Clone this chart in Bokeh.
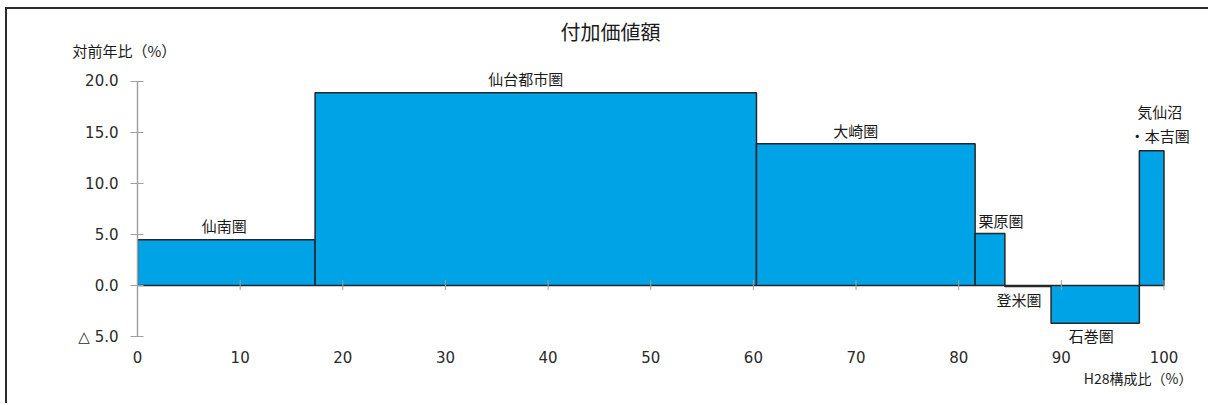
from bokeh.plotting import figure
from bokeh.models import Range1d, FixedTicker, Title, ColumnDataSource
from bokeh.core.properties import value
from bokeh.embed import file_html
from bokeh.resources import INLINE

# ---- data ----
regions = ["仙南圏", "仙台都市圏", "大崎圏", "栗原圏", "登米圏", "石巻圏", "気仙沼\n・本吉圏"]
shares = [17.3, 43.0, 21.3, 2.9, 4.5, 8.6, 2.4]      # H28構成比(%)
growth = [4.5, 18.9, 13.9, 5.1, -0.1, -3.7, 13.2]    # 対前年比(%)
x_ticks = [0, 10, 20, 30, 40, 50, 60, 70, 80, 90, 100]
x_tick_labels = ["0", "10", "20", "30", "40", "50", "60", "70", "80", "90", "100"]
y_ticks = [-5, 0, 5, 10, 15, 20]
y_tick_labels = ["△ 5.0", "0.0", "5.0", "10.0", "15.0", "20.0"]
title_text = "付加価値額"
y_title = "対前年比（%）"
x_title = "H28構成比（%）"

# label nudges (pixels; styling only)
label_dx = [-2, -10, -10, 11, -9, -4, 8]
label_dy = [-14, -14, -13, -13, 13, 12, -27]

# ---- derived geometry ----
lefts, rights = [], []
acc = 0.0
for s in shares:
    lefts.append(acc)
    acc += s
    rights.append(acc)
tops = [max(g, 0) for g in growth]
bottoms = [min(g, 0) for g in growth]
mids = [(l + r) / 2 for l, r in zip(lefts, rights)]

src = ColumnDataSource(dict(left=lefts, right=rights, top=tops, bottom=bottoms,
                            mid=mids, g=growth, name=regions,
                            dx=label_dx, dy=label_dy))

FONT_JP = "Noto Sans CJK JP"

p = figure(width=1203, height=396,
           x_range=Range1d(0, 103.07), y_range=Range1d(-6.27, 21.96),
           output_backend="svg", toolbar_location=None,
           min_border_left=130, min_border_right=15,
           min_border_top=52, min_border_bottom=56)
p.styles = {"margin-left": "5px", "margin-top": "7px",
            "border-left": "2px solid #2b2b2b", "border-top": "2px solid #2b2b2b"}
p.outline_line_color = None
p.xgrid.visible = False
p.ygrid.visible = False
p.background_fill_color = "white"
p.border_fill_color = "white"

# bars
p.quad(left="left", right="right", top="top", bottom="bottom", source=src,
       fill_color="#00A3E6", line_color="#262626", line_width=1.5)

# small tick marks on the zero line
p.segment(x0=x_ticks[1:], y0=[-0.45] * (len(x_ticks) - 1),
          x1=x_ticks[1:], y1=[0.55] * (len(x_ticks) - 1),
          line_color="#a0a0a0", line_width=1)

# bar labels
p.text(x="mid", y="g", text="name", source=src, x_offset="dx", y_offset="dy",
       text_align="center", text_baseline="middle",
       text_font=value(FONT_JP), text_font_size="15px", text_color="#1a1a1a",
       text_line_height=1.15)

# axes
ya = p.yaxis[0]
ya.ticker = FixedTicker(ticks=y_ticks)
ya.major_label_overrides = dict(zip(y_ticks, y_tick_labels))
ya.bounds = (-5, 20)
ya.axis_line_color = "#a0a0a0"
ya.axis_line_width = 1.5
ya.major_tick_line_color = "#a0a0a0"
ya.major_tick_in = 6
ya.major_tick_out = 7
ya.minor_tick_line_color = None
ya.major_label_standoff = 12
ya.major_label_text_font = "DejaVu Sans"
ya.major_label_text_font_size = "15px"
ya.major_label_text_color = "#2a2a2a"

xa = p.xaxis[0]
xa.ticker = FixedTicker(ticks=x_ticks)
xa.major_label_overrides = dict(zip(x_ticks, x_tick_labels))
xa.axis_line_color = None
xa.major_tick_line_color = None
xa.minor_tick_line_color = None
xa.major_tick_out = 0
xa.major_tick_in = 0
xa.major_label_standoff = 1
xa.major_label_text_font = "DejaVu Sans"
xa.major_label_text_font_size = "15px"
xa.major_label_text_color = "#2a2a2a"

# titles
p.title.text = title_text
p.title.align = "left"
p.title.offset = 423
p.title.standoff = -18
p.title.text_font = FONT_JP
p.title.text_font_size = "20px"
p.title.text_font_style = "normal"
p.title.text_color = "#1a1a1a"

p.add_layout(Title(text=y_title, align="left", offset=-65, standoff=2,
                   text_font=FONT_JP, text_font_size="15px",
                   text_font_style="normal", text_color="#1a1a1a"), "above")
p.add_layout(Title(text=x_title, align="right", offset=3, standoff=0,
                   text_font=FONT_JP, text_font_size="14px",
                   text_font_style="normal", text_color="#1a1a1a"), "below")

open("out.html", "w").write(file_html(p, INLINE))
